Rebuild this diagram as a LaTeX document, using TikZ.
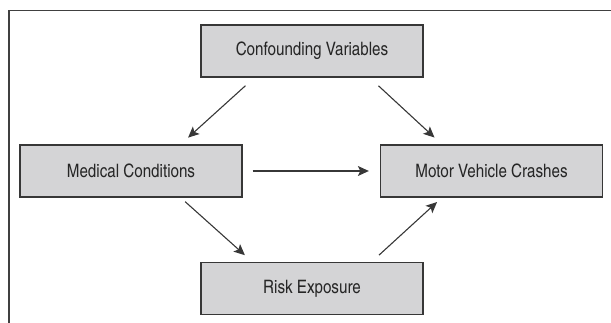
\documentclass[tikz,border=0pt]{standalone}
\usepackage{fontspec}
\setmainfont{TeX Gyre Heros Cn}
\usetikzlibrary{arrows.meta}
\definecolor{boxgray}{RGB}{212,212,214}
\definecolor{linegray}{RGB}{55,55,55}
\tikzset{
  factor/.style={%
    draw=linegray, line width=1.3pt, fill=boxgray,
    minimum width=222pt, minimum height=52pt, inner sep=0pt,
    font=\fontsize{18.5}{22}\selectfont, text=black!85,
  },
  link/.style={%
    -{Stealth[length=11pt,width=10pt,inset=2.5pt]},
    line width=1.1pt, draw=linegray,
  },
  frame/.style={line width=1.6pt, draw=black!75},
}

\begin{document}
\begin{tikzpicture}[x=1pt,y=-1pt]
\useasboundingbox (0,0) rectangle (611,323);
\draw[frame] (9,323) -- (9,10.5) -- (611,10.5);
\node[factor] (conf)  at (312,51)    {Confounding Variables};
\node[factor] (med)   at (131,171)   {Medical Conditions};
\node[factor] (motor) at (491.5,171) {Motor Vehicle Crashes};
\node[factor] (risk)  at (312,288.5) {Risk Exposure};
\draw[link, shorten <=12pt, shorten >=10pt]
  ([xshift=54pt]conf.south west) -- ([xshift=-62pt]med.north east);
\draw[link, shorten <=12pt, shorten >=10pt]
  ([xshift=-54pt]conf.south east) -- ([xshift=62pt]motor.north west);
\draw[link, shorten <=10pt, shorten >=11pt] (med.east) -- (motor.west);
\draw[link, shorten <=6pt, shorten >=10pt]
  ([xshift=-62pt]med.south east) -- ([xshift=52pt]risk.north west);
\draw[link, shorten <=10pt, shorten >=6.5pt]
  ([xshift=-52pt]risk.north east) -- ([xshift=62pt]motor.south west);
\end{tikzpicture}
\end{document}
